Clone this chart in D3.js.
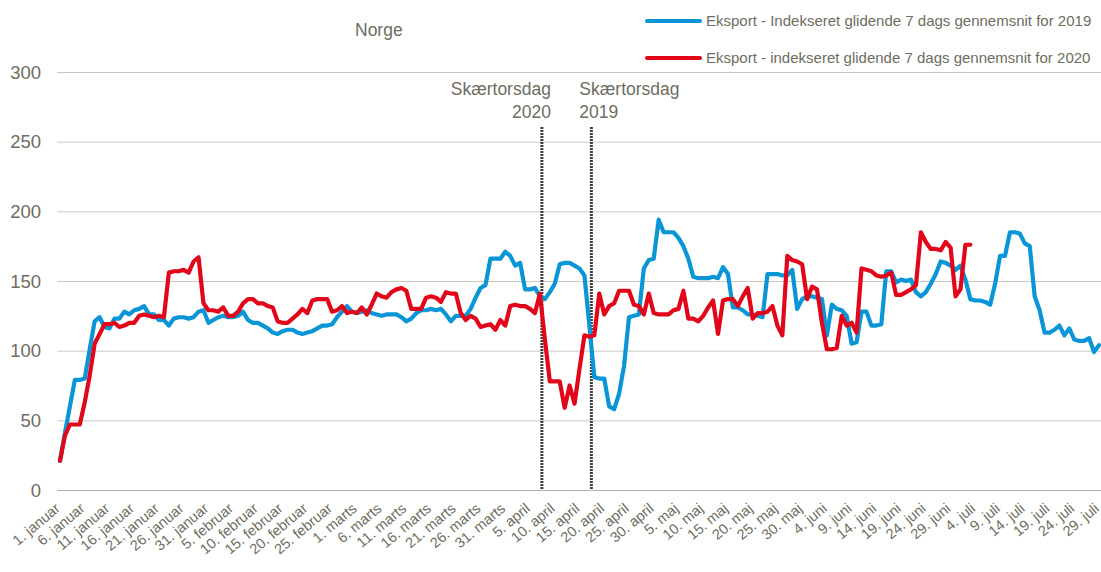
<!DOCTYPE html>
<html>
<head>
<meta charset="utf-8">
<script src="https://cdn.jsdelivr.net/npm/d3@7"></script>
<style>
  body { margin: 0; background: #fff; }
  svg { display: block; font-family: "Liberation Sans", Arial, sans-serif; }
</style>
</head>
<body>
<svg id="viz" width="1101" height="572"></svg>
<script>
// dagsindeks 0 = 1. januar (2020-kalender, en tick pr. 5 dage)
var tickLabels = ["1. januar", "6. januar", "11. januar", "16. januar", "21. januar", "26. januar", "31. januar",
    "5. februar", "10. februar", "15. februar", "20. februar", "25. februar",
    "1. marts", "6. marts", "11. marts", "16. marts", "21. marts", "26. marts", "31. marts",
    "5. april", "10. april", "15. april", "20. april", "25. april", "30. april",
    "5. maj", "10. maj", "15. maj", "20. maj", "25. maj", "30. maj",
    "4. juni", "9. juni", "14. juni", "19. juni", "24. juni", "29. juni",
    "4. juli", "9. juli", "14. juli", "19. juli", "24. juli", "29. juli"];

var eksport2019 = [21, 41, 60, 79, 79, 80, 101, 121, 124, 117, 116, 123, 123, 128, 126, 129, 130, 132, 126, 126,
    122, 122, 118, 123, 124, 124, 123, 124, 128, 129, 120, 122, 124, 125, 124, 124, 125, 128, 122, 120,
    120, 118, 116, 113, 112, 114, 115, 115, 113, 112, 113, 114, 116, 118, 118, 119, 124, 128, 132, 128,
    127, 128, 129, 127, 126, 125, 126, 126, 126, 124, 121, 123, 127, 129, 129, 130, 129, 130, 126, 121,
    125, 125, 125, 130, 138, 145, 147, 166, 166, 166, 171, 168, 161, 163, 144, 144, 145, 139, 137, 142,
    148, 162, 163, 163, 161, 159, 154, 118, 81, 80, 80, 60, 58, 69, 89, 124, 125, 126, 159, 165,
    166, 194, 185, 185, 185, 181, 175, 166, 153, 152, 152, 152, 153, 152, 160, 155, 131, 131, 129, 126,
    126, 125, 124, 155, 155, 155, 154, 154, 158, 130, 137, 139, 139, 138, 137, 111, 133, 130, 129, 125,
    105, 106, 128, 128, 118, 118, 119, 157, 157, 149, 151, 150, 151, 142, 139, 142, 148, 155, 164, 163,
    161, 158, 161, 151, 137, 136, 136, 135, 133, 148, 168, 168, 185, 185, 184, 177, 175, 139, 129, 113,
    113, 115, 118, 111, 116, 108, 107, 107, 109, 99, 104];

var eksport2020 = [21, 39, 47, 47, 47, 63, 82, 105, 112, 119, 119, 120, 117, 118, 120, 120, 125, 126, 125, 124,
    125, 124, 156, 157, 157, 158, 156, 164, 167, 134, 129, 129, 128, 131, 125, 125, 128, 134, 137, 137,
    134, 134, 132, 131, 121, 120, 120, 123, 126, 130, 127, 136, 137, 137, 137, 128, 129, 132, 127, 128,
    127, 131, 126, 133, 141, 139, 138, 142, 144, 145, 143, 130, 130, 130, 138, 139, 138, 135, 142, 141,
    141, 127, 122, 125, 123, 117, 118, 119, 115, 122, 118, 132, 133, 132, 132, 130, 127, 141, 108, 78,
    78, 78, 59, 75, 62, 87, 111, 110, 111, 141, 126, 132, 134, 143, 143, 143, 133, 132, 126, 141,
    127, 126, 126, 126, 129, 130, 143, 123, 123, 121, 125, 131, 136, 112, 136, 137, 137, 132, 139, 145,
    123, 127, 127, 128, 132, 118, 111, 168, 165, 164, 162, 137, 146, 144, 120, 101, 101, 102, 125, 118,
    120, 113, 159, 158, 157, 154, 153, 154, 156, 140, 140, 142, 144, 147, 185, 178, 173, 173, 172, 178,
    174, 139, 144, 176, 176];

var seriesNames = ["Eksport - Indekseret glidende 7 dags gennemsnit for 2019",
    "Eksport - indekseret glidende 7 dags gennemsnit for 2020"];
var seriesColors = ["#0a96d6", "#e2061a"];

var markerDays = [97.4, 107.4];
var markerLabels = [["Skærtorsdag", "2020"], ["Skærtorsdag", "2019"]];

var yTicks = [0, 50, 100, 150, 200, 250, 300];

var textColor = "#6e6d61";
var gridColor = "#cbc9bf";

var svg = d3.select("#viz");

var x = d3.scaleLinear().domain([0, 210]).range([60, 1099]);
var y = d3.scaleLinear().domain([0, 300]).range([490, 72]);

// gitterlinjer
svg.append("g").attr("class", "grid")
    .selectAll("line")
    .data(yTicks)
    .enter()
    .append("line")
    .attr("x1", 57)
    .attr("x2", 1101)
    .attr("y1", function (d) { return y(d) + 0.5; })
    .attr("y2", function (d) { return y(d) + 0.5; })
    .attr("stroke", function (d) { return d == 0 ? "#b3b1a6" : gridColor; })
    .attr("stroke-width", 1);

// y-akse tekst
svg.append("g").attr("class", "yLabels")
    .selectAll("text")
    .data(yTicks)
    .enter()
    .append("text")
    .attr("x", 41)
    .attr("y", function (d) { return y(d); })
    .attr("dy", "0.36em")
    .attr("text-anchor", "end")
    .style("fill", textColor)
    .style("font-size", "18.5px")
    .text(function (d) { return d; });

// x-akse tekst, drejet
svg.append("g").attr("class", "xLabels")
    .selectAll("text")
    .data(tickLabels)
    .enter()
    .append("text")
    .attr("transform", function (d, i) { return "translate(" + (x(i * 5) + 1) + ",510) rotate(-40)"; })
    .attr("text-anchor", "end")
    .style("fill", textColor)
    .style("font-size", "14.5px")
    .text(function (d) { return d; });

// skærtorsdag markeringer
svg.append("g").attr("class", "markers")
    .selectAll("line")
    .data(markerDays)
    .enter()
    .append("line")
    .attr("x1", function (d) { return x(d); })
    .attr("x2", function (d) { return x(d); })
    .attr("y1", 127)
    .attr("y2", y(0))
    .attr("stroke", "#3c3c3c")
    .attr("stroke-width", 3)
    .attr("stroke-dasharray", "2,1");

var markerText = svg.append("g").attr("class", "markerText")
    .selectAll("text")
    .data(markerLabels)
    .enter()
    .append("text")
    .attr("text-anchor", function (d, i) { return i == 0 ? "end" : "start"; })
    .style("fill", textColor)
    .style("font-size", "17.5px");

markerText.selectAll("tspan")
    .data(function (d, i) { return d.map(function (t) { return { t: t, i: i }; }); })
    .enter()
    .append("tspan")
    .attr("x", function (d) { return d.i == 0 ? x(markerDays[0]) + 9 : x(markerDays[1]) - 12; })
    .attr("y", function (d, j) { return 95 + j * 23; })
    .text(function (d) { return d.t; });

// linjer
var line = d3.line()
    .x(function (d, i) { return x(i); })
    .y(function (d) { return y(d); });

svg.append("g").attr("class", "lines")
    .selectAll("path")
    .data([eksport2019, eksport2020])
    .enter()
    .append("path")
    .attr("d", line)
    .attr("fill", "none")
    .attr("stroke", function (d, i) { return seriesColors[i]; })
    .attr("stroke-width", 4.2)
    .attr("stroke-linejoin", "round")
    .attr("stroke-linecap", "round");

// titel
svg.append("text")
    .attr("x", 355)
    .attr("y", 36)
    .style("fill", textColor)
    .style("font-size", "17.5px")
    .text("Norge");

// legend
var legend = svg.append("g").attr("class", "legend")
    .selectAll("g")
    .data(seriesNames)
    .enter()
    .append("g")
    .attr("transform", function (d, i) { return "translate(647," + (21 + i * 37) + ")"; });

legend.append("line")
    .attr("x1", 0)
    .attr("x2", 53)
    .attr("stroke", function (d, i) { return seriesColors[i]; })
    .attr("stroke-width", 4)
    .attr("stroke-linecap", "round");

legend.append("text")
    .attr("x", 59)
    .attr("dy", "0.36em")
    .style("fill", textColor)
    .style("font-size", "15px")
    .text(function (d) { return d; });
</script>
</body>
</html>
